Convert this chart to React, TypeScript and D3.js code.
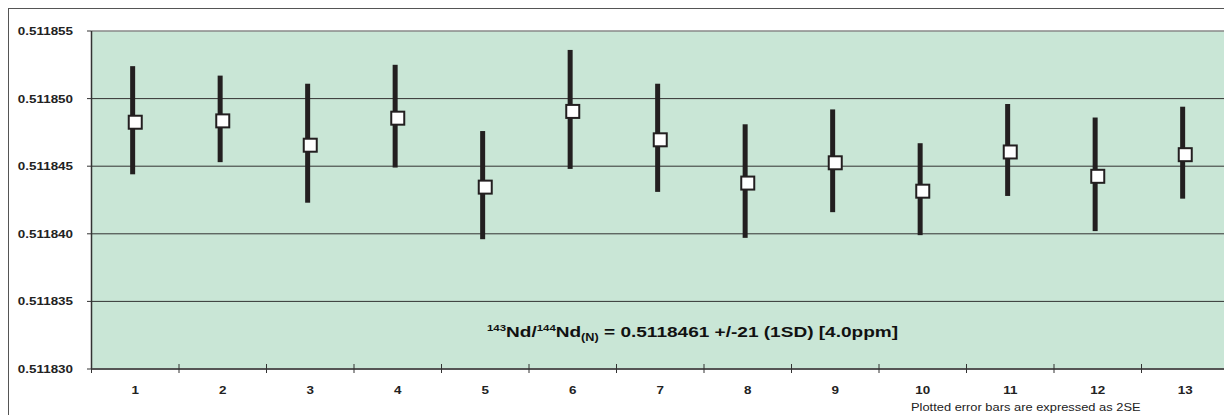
import React from "react";
import * as d3 from "d3";

// 143Nd/144Nd(N) per analysis, with 2SE error
const samples = ["1", "2", "3", "4", "5", "6", "7", "8", "9", "10", "11", "12", "13"];
const ratios = [
  0.5118484, 0.5118485, 0.5118467, 0.5118487, 0.5118436, 0.5118492, 0.5118471,
  0.5118439, 0.5118454, 0.5118433, 0.5118462, 0.5118444, 0.511846,
];
const errors2SE = [
  0.000004, 0.0000032, 0.0000044, 0.0000038, 0.000004, 0.0000044, 0.000004,
  0.0000042, 0.0000038, 0.0000034, 0.0000034, 0.0000042, 0.0000034,
];
const yTicks = [0.51183, 0.511835, 0.51184, 0.511845, 0.51185, 0.511855];

const FONT = "Arial, 'Liberation Sans', sans-serif";

export default function App() {
  const margin = { top: 31, left: 91.5, bottom: 369 };
  const bandW = 87.5;

  const x = d3
    .scaleBand<string>()
    .domain(samples)
    .range([margin.left, margin.left + bandW * samples.length])
    .padding(0);
  const y = d3.scaleLinear().domain([0.51183, 0.511855]).range([margin.bottom, margin.top]);
  const fmt = d3.format(".6f");

  const bounds = [...samples.map((s) => x(s) as number), x.range()[1]];

  return (
    <svg
      width={1224}
      height={415}
      style={{ position: "absolute", left: 0, top: 0, background: "#fff" }}
      fontFamily={FONT}
    >
      {/* outer frame */}
      <rect x={8.5} y={8.5} width={1240} height={420} fill="none" stroke="#555" strokeWidth={1} />

      {/* plot area */}
      <rect
        x={margin.left}
        y={margin.top}
        width={x.range()[1] - margin.left}
        height={margin.bottom - margin.top}
        fill="#c9e6d6"
      />
      <line x1={margin.left} x2={1224} y1={margin.top} y2={margin.top} stroke="#888" strokeWidth={1.5} />

      {/* gridlines */}
      {yTicks.slice(1, -1).map((t) => (
        <line key={t} x1={margin.left} x2={1224} y1={y(t)} y2={y(t)} stroke="#333" strokeWidth={1} />
      ))}

      {/* y axis */}
      <line x1={margin.left} x2={margin.left} y1={margin.top} y2={margin.bottom} stroke="#333" strokeWidth={1.5} />
      {yTicks.map((t) => (
        <g key={t}>
          <line x1={87} x2={margin.left} y1={y(t)} y2={y(t)} stroke="#333" strokeWidth={1} />
          <text
            transform={`translate(73,${y(t) + 4}) scale(1.22,1)`}
            textAnchor="end"
            fontSize={11}
            fontWeight="bold"
            fill="#222"
          >
            {fmt(t)}
          </text>
        </g>
      ))}

      {/* x axis */}
      <line x1={margin.left} x2={1224} y1={margin.bottom} y2={margin.bottom} stroke="#555" strokeWidth={2} />
      {bounds.map((b, i) => (
        <line key={i} x1={b} x2={b} y1={margin.bottom - 5} y2={margin.bottom + 4} stroke="#333" strokeWidth={1} />
      ))}
      {samples.map((s) => (
        <text
          key={s}
          transform={`translate(${(x(s) as number) + x.bandwidth() / 2},394) scale(1.22,1)`}
          textAnchor="middle"
          fontSize={11}
          fontWeight="bold"
          fill="#222"
        >
          {s}
        </text>
      ))}

      {/* error bars + markers */}
      {samples.map((s, i) => {
        const cx = (x(s) as number) + x.bandwidth() / 2;
        const v = ratios[i];
        const e = errors2SE[i];
        return (
          <g key={s}>
            <rect
              x={cx - 2.5 - 2.6}
              y={y(v + e)}
              width={5}
              height={y(v - e) - y(v + e)}
              fill="#231f20"
            />
            <rect
              x={cx - 6.5}
              y={y(v) - 6.5 + 2}
              width={13}
              height={13}
              fill="#fff"
              stroke="#231f20"
              strokeWidth={2}
            />
          </g>
        );
      })}

      {/* mean annotation */}
      <text transform="translate(487,337) scale(1.27,1)" fontSize={15} fontWeight="bold" fill="#111">
        <tspan fontSize={9} dy={-6}>143</tspan>
        <tspan dy={6}>Nd/</tspan>
        <tspan fontSize={9} dy={-6}>144</tspan>
        <tspan dy={6}>Nd</tspan>
        <tspan fontSize={10} dy={4}>(N)</tspan>
        <tspan dy={-4}> = 0.5118461 +/-21 (1SD) [4.0ppm]</tspan>
      </text>

      <text transform="translate(911,411) scale(1.17,1)" fontSize={11} fill="#222">
        Plotted error bars are expressed as 2SE
      </text>
    </svg>
  );
}
